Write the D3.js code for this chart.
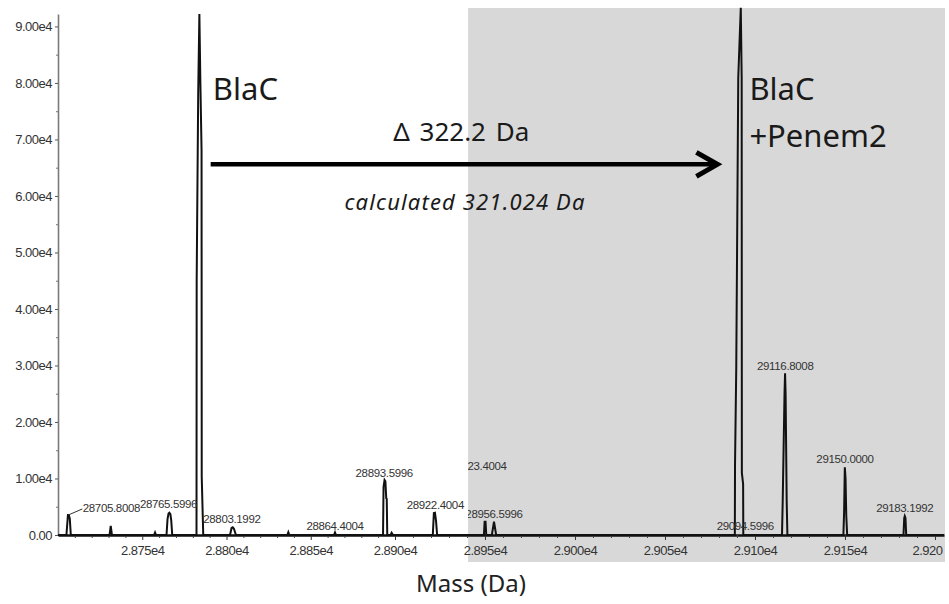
<!DOCTYPE html>
<html><head><meta charset="utf-8">
<script src="https://cdn.jsdelivr.net/npm/d3@7"></script>
<style>body{margin:0;background:#fff} svg{display:block}</style>
</head><body><svg id="c" width="949" height="604"></svg>
<script>
// ---------- data ----------
const xTicks = [28750, 28800, 28850, 28900, 28950, 29000, 29050, 29100, 29150, 29200];
const xTickLabels = ["2.875e4", "2.880e4", "2.885e4", "2.890e4", "2.895e4", "2.900e4", "2.905e4", "2.910e4", "2.915e4", "2.920"];
const yTicks = [0, 10000, 20000, 30000, 40000, 50000, 60000, 70000, 80000, 90000];
const yTickLabels = ["0.00", "1.00e4", "2.00e4", "3.00e4", "4.00e4", "5.00e4", "6.00e4", "7.00e4", "8.00e4", "9.00e4"];

// spectrum profile: [mass (Da), intensity]
const spectrum = [
  [28700, 0],
  [28705.0, 0], [28705.9, 3540], [28706.4, 3540], [28707.0, 2900], [28707.6, 0],
  [28730.6, 0], [28731.3, 1600], [28732.0, 0],
  [28757.0, 0], [28757.6, 450], [28758.2, 0],
  [28764.4, 0], [28765.0, 2800], [28765.6, 3800], [28766.1, 3950], [28766.7, 3700], [28767.2, 2600], [28767.8, 0],
  [28782.2, 0], [28782.3, 45000], [28783.2, 78000], [28783.9, 92200], [28784.5, 80000], [28785.2, 68000], [28785.3, 10300], [28786.2, 0],
  [28802.1, 0], [28803.0, 1250], [28803.7, 1360], [28804.4, 1100], [28805.6, 0],
  [28836.1, 0], [28836.7, 500], [28837.3, 0],
  [28863.8, 0], [28864.4, 450], [28865.0, 0],
  [28892.9, 0], [28893.2, 8500], [28893.8, 9735], [28894.3, 9500], [28894.8, 6500], [28895.1, 6400], [28895.4, 0],
  [28897.3, 0], [28898.0, 400], [28898.8, 0],
  [28921.0, 0], [28921.6, 3900], [28922.2, 3950], [28922.8, 2500], [28923.4, 0],
  [28949.4, 0], [28949.8, 2350], [28950.3, 2350], [28950.7, 0],
  [28953.8, 0], [28955.0, 2350], [28956.2, 0],
  [29088.8, 0], [29088.9, 12400], [29089.6, 30000], [29090.7, 80900], [29092.1, 93300], [29092.6, 80900], [29092.7, 11000], [29093.4, 9000], [29093.5, 0],
  [29115.0, 0], [29115.4, 6000], [29116.4, 25000], [29116.7, 28620], [29117.0, 25000], [29117.6, 6000], [29118.0, 0],
  [29149.1, 0], [29149.5, 4000], [29149.9, 11980], [29150.3, 10000], [29150.7, 3500], [29151.2, 0],
  [29182.5, 0], [29182.9, 3000], [29183.2, 3360], [29183.6, 3000], [29184.0, 0],
  [29205, 0]
];

// peak labels
const labelTexts = ["28705.8008", "28765.5996", "28803.1992", "28864.4004", "28893.5996", "28922.4004",
                    "28923.4004", "28956.5996", "29094.5996", "29116.8008", "29150.0000", "29183.1992"];
const labelMass  = [28706.1, 28765.6, 28803.2, 28864.4, 28893.6, 28922.4,
                    28946.1, 28955.0, 29094.6, 29116.8, 29150.0, 29183.2];
const labelInt   = [3540, 4150, 1330, 180, 9470, 3900,
                    10800, 2300, 180, 28500, 11950, 3450];
const clippedLabels = ["28923.4004", "28956.5996"];

const highlightRange = [28940.6, 29205];   // shaded (BlaC+Penem2) region
const peakNames = ["BlaC", "BlaC", "+Penem2"];
const deltaText = "\u0394 322.2 Da";
const calcText = "calculated 321.024 Da";
const xTitle = "Mass (Da)";

// ---------- scales ----------
const svg = d3.select("#c");
const x = d3.scaleLinear().domain([28700, 28900, 29205]).range([58, 395, 944]);
const y = d3.scaleLinear().domain([0, 92200]).range([535, 14]);

const defs = svg.append("defs");
defs.append("clipPath").attr("id", "hiClip").append("rect")
  .attr("x", x(highlightRange[0])).attr("y", 0).attr("width", 949).attr("height", 604);

// shaded region
svg.append("rect")
  .attr("x", x(highlightRange[0])).attr("y", 8)
  .attr("width", x(highlightRange[1]) - x(highlightRange[0]) + 1)
  .attr("height", 562 - 8)
  .attr("fill", "#d8d8d8");

// ---------- axes ----------
const fmtY = d => yTickLabels[yTicks.indexOf(d)];
const fmtX = d => xTickLabels[xTicks.indexOf(d)];

const gy = svg.append("g").attr("transform", "translate(58,0)")
  .call(d3.axisLeft(y).tickValues(yTicks).tickFormat(fmtY).tickSize(3).tickPadding(3).tickSizeOuter(0));
gy.select(".domain").attr("stroke", "#7a7a7a").attr("stroke-width", 1.6);
gy.selectAll(".tick line").attr("stroke", "#555");
gy.selectAll(".tick text").attr("font-family", "Liberation Sans, Arial, sans-serif")
  .attr("font-size", 13).attr("letter-spacing", -0.5).attr("fill", "#333");
svg.append("g").attr("transform", "translate(58,0)")
  .call(d3.axisLeft(y).tickValues(d3.range(5000, 92200, 10000)).tickFormat("").tickSize(2).tickSizeOuter(0))
  .call(g => g.select(".domain").remove())
  .selectAll(".tick line").attr("stroke", "#777");

const gx = svg.append("g").attr("transform", "translate(0,535)")
  .call(d3.axisBottom(x).tickValues(xTicks).tickFormat(fmtX).tickSize(5).tickPadding(5.5).tickSizeOuter(0));
gx.select(".domain").attr("stroke", "#111").attr("stroke-width", 2.5);
gx.selectAll(".tick line").attr("stroke", "#333");
gx.selectAll(".tick text").attr("font-family", "Liberation Sans, Arial, sans-serif")
  .attr("font-size", 13).attr("letter-spacing", -0.5).attr("fill", "#333");
// last label sits at the right edge: start-aligned so it stays inside
gx.selectAll(".tick text").filter(d => d === xTicks[xTicks.length - 1])
  .attr("text-anchor", "start").attr("x", -23);
const minorX = d3.range(28710, 29205, 10).filter(v => !xTicks.includes(v));
svg.append("g").attr("transform", "translate(0,535)")
  .call(d3.axisBottom(x).tickValues(minorX).tickFormat("").tickSize(3).tickSizeOuter(0))
  .call(g => g.select(".domain").remove())
  .selectAll(".tick line").attr("stroke", "#444");

// ---------- spectrum ----------
svg.append("path")
  .datum(spectrum)
  .attr("d", d3.line().x(d => x(d[0])).y(d => y(d[1])))
  .attr("fill", "none").attr("stroke", "#111").attr("stroke-width", 2)
  .attr("stroke-linejoin", "miter");

// ---------- peak labels ----------
const lab = svg.append("g").attr("font-family", "Liberation Sans, Arial, sans-serif")
  .attr("font-size", 11.5).attr("letter-spacing", -0.35).attr("fill", "#333");
labelTexts.forEach((t, i) => {
  const px = x(labelMass[i]), py = y(labelInt[i]);
  if (i === 0) {
    lab.append("line").attr("x1", px).attr("y1", py).attr("x2", px + 14).attr("y2", py - 6)
      .attr("stroke", "#333").attr("stroke-width", 1);
    lab.append("text").attr("x", px + 14.5).attr("y", py - 2.5).text(t);
  } else {
    const tx = lab.append("text").attr("x", px).attr("y", py - 4).attr("text-anchor", "middle").text(t);
    if (clippedLabels.includes(t)) tx.attr("clip-path", "url(#hiClip)");
  }
});

// ---------- annotations ----------
const ann = svg.append("g").attr("font-family", "Noto Sans, Open Sans, sans-serif").attr("fill", "#1a1a1a");
ann.append("text").attr("x", x(28783.9) + 13.5).attr("y", y(77000)).attr("font-size", 31).text(peakNames[0]);
ann.append("text").attr("x", x(29092.1) + 8.6).attr("y", y(77000)).attr("font-size", 31).text(peakNames[1]);
ann.append("text").attr("x", x(29092.1) + 8.6).attr("y", y(68700)).attr("font-size", 31).text(peakNames[2]);
ann.append("text").attr("x", x(28936.8)).attr("y", y(69800)).attr("text-anchor", "middle")
  .attr("font-size", 26).attr("word-spacing", 3).text(deltaText);
ann.append("text").attr("x", x(28938.9)).attr("y", y(57500)).attr("text-anchor", "middle")
  .attr("font-size", 22).attr("font-style", "italic").attr("letter-spacing", 1.15).text(calcText);

// arrow
const ax0 = x(28790.6), ax1 = x(29079.1), ay = y(65600);
svg.append("line").attr("x1", ax0).attr("y1", ay).attr("x2", ax1 - 2).attr("y2", ay)
  .attr("stroke", "#000").attr("stroke-width", 4.5);
svg.append("path")
  .attr("d", `M${ax1 - 21},${ay - 12} L${ax1},${ay} L${ax1 - 21},${ay + 12}`)
  .attr("fill", "none").attr("stroke", "#000").attr("stroke-width", 5).attr("stroke-linejoin", "miter");

// axis title
svg.append("text").attr("x", 471).attr("y", 592).attr("text-anchor", "middle")
  .attr("font-family", "Noto Sans, Open Sans, sans-serif").attr("font-size", 24).attr("fill", "#222")
  .text(xTitle);
</script>
</body></html>
